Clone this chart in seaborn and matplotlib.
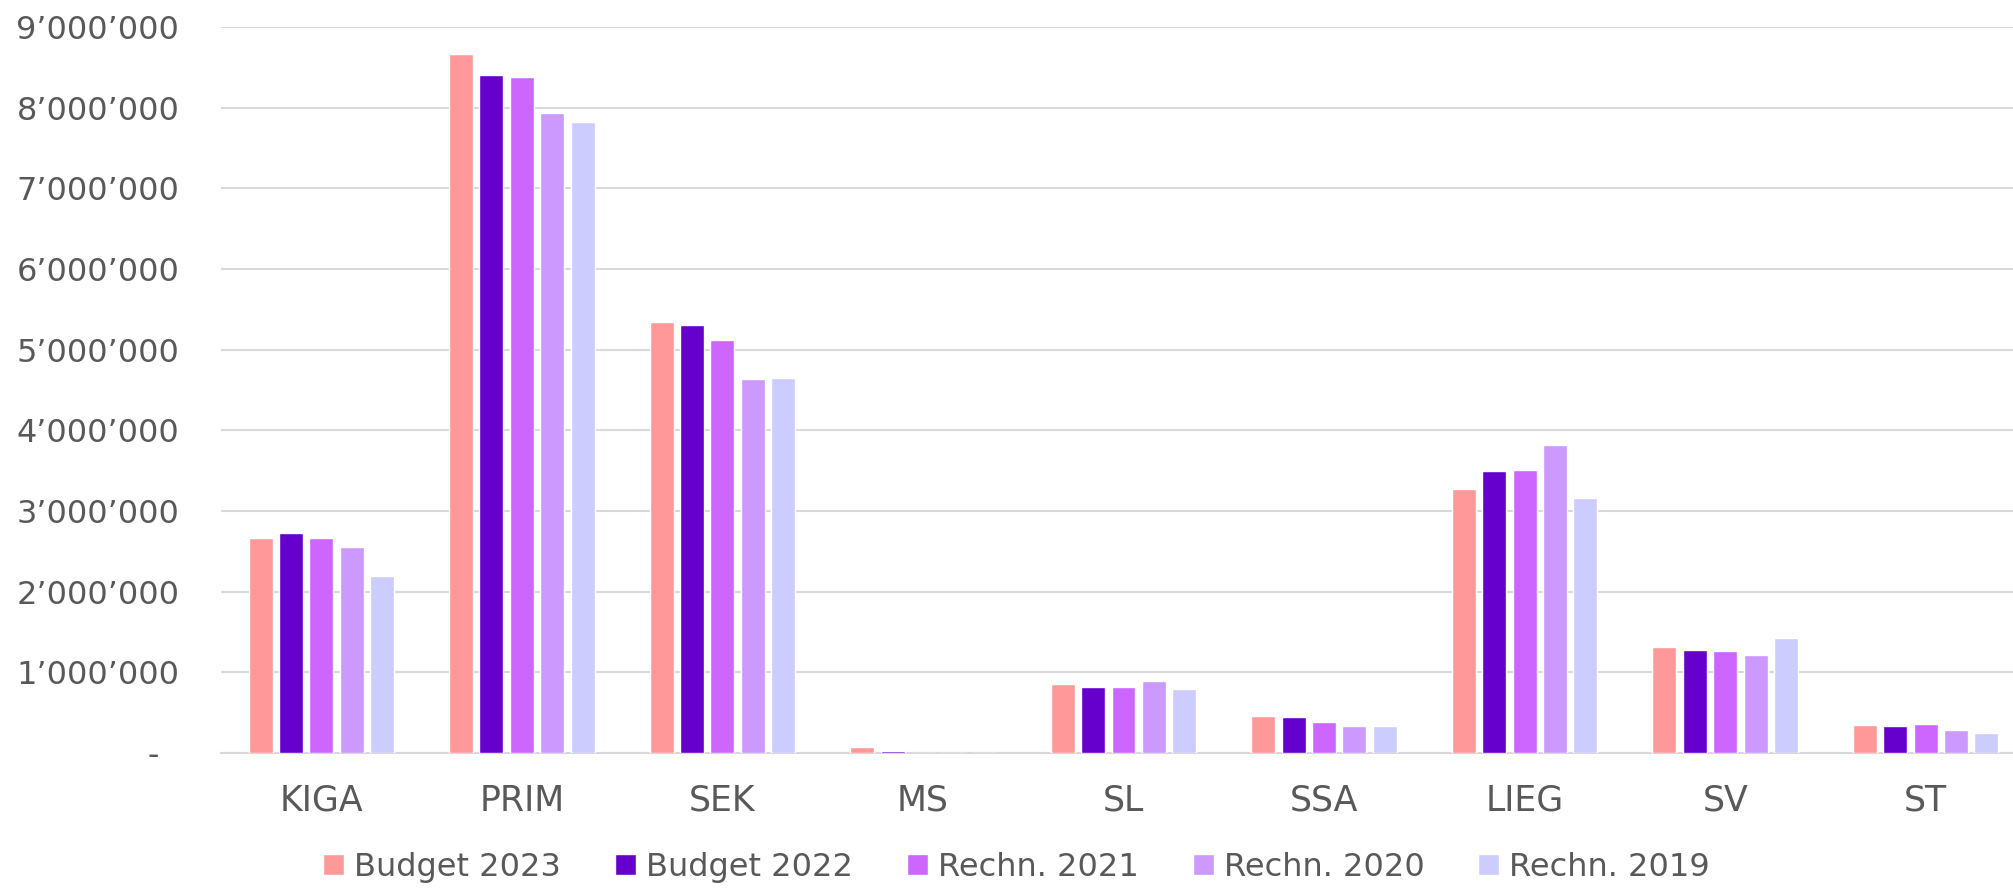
import pandas as pd
import matplotlib
matplotlib.use("Agg")
import matplotlib.pyplot as plt
import matplotlib.ticker as mticker
import seaborn as sns

categories = ["KIGA", "PRIM", "SEK", "MS", "SL", "SSA", "LIEG", "SV", "ST"]
series = ["Budget 2023", "Budget 2022", "Rechn. 2021", "Rechn. 2020", "Rechn. 2019"]
colors = ["#FF9999", "#6600CC", "#CC66FF", "#CC99FF", "#CCCCFF"]

budget_2023 = [2660000, 8670000, 5340000, 78000, 855000, 460000, 3270000, 1310000, 343000]
budget_2022 = [2730000, 8400000, 5300000, 28000, 820000, 450000, 3500000, 1280000, 340000]
rechn_2021 = [2670000, 8380000, 5115000, 0, 820000, 390000, 3510000, 1270000, 356000]
rechn_2020 = [2550000, 7940000, 4640000, 0, 890000, 340000, 3820000, 1210000, 280000]
rechn_2019 = [2200000, 7820000, 4650000, 0, 790000, 340000, 3160000, 1420000, 253000]

values = [budget_2023, budget_2022, rechn_2021, rechn_2020, rechn_2019]
rows = []
for name, vals in zip(series, values):
    for cat, v in zip(categories, vals):
        rows.append({"cat": cat, "value": v, "series": name})
df = pd.DataFrame(rows)

sns.set_style("white")
plt.rcParams["font.family"] = ["DejaVu Sans"]
text_color = "#595959"

fig = plt.figure(figsize=(20.13, 8.88), dpi=100)
ax = fig.add_axes([221 / 2013, 1 - 753 / 888, (2026 - 221) / 2013, (753 - 27) / 888])

sns.barplot(data=df, x="cat", y="value", hue="series", hue_order=series,
            palette=colors, saturation=1, width=0.757, gap=0.21,
            order=categories, ax=ax, errorbar=None)
# bars drawn above the baseline so the tiny MS bars stay visible
for p in ax.patches:
    p.set_zorder(3)

ax.set_ylim(0, 9000000)
ax.set_yticks(range(0, 9000001, 1000000))


def fmt(v, pos):
    if v == 0:
        return "-  "
    return f"{int(v):,}".replace(",", "\u2019")


ax.yaxis.set_major_formatter(mticker.FuncFormatter(fmt))
ax.grid(axis="y", color="#D9D9D9", linewidth=1.5)
ax.set_axisbelow(True)
for s in ["top", "right", "left"]:
    ax.spines[s].set_visible(False)
ax.spines["bottom"].set_color("#D9D9D9")
ax.spines["bottom"].set_linewidth(1.5)
ax.tick_params(axis="y", length=0, pad=30, labelsize=23, labelcolor=text_color)
ax.tick_params(axis="x", length=0, pad=22, labelsize=25, labelcolor=text_color)
ax.set_xlabel("")
ax.set_ylabel("")

handles, labels = ax.get_legend_handles_labels()
ax.get_legend().remove()
fig.legend(handles, labels, loc="center", bbox_to_anchor=(0.505, 1 - 867 / 888),
           ncol=5, frameon=False, fontsize=23, labelcolor=text_color,
           handlelength=0.66, handleheight=0.66, handletextpad=0.31,
           columnspacing=1.69)

fig.savefig("out.png", dpi=100)
